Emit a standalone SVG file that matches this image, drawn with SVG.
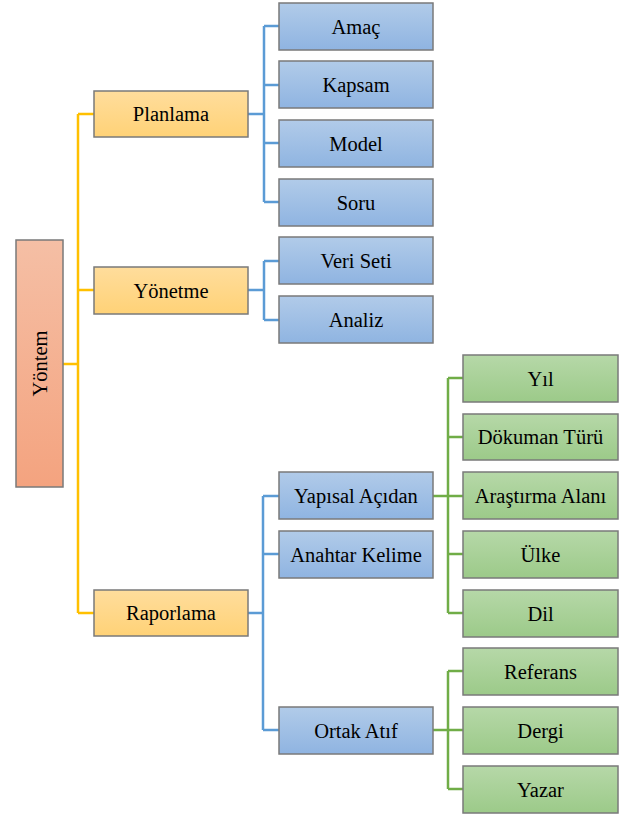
<svg xmlns="http://www.w3.org/2000/svg" width="624" height="816" viewBox="0 0 624 816">
<defs>
<linearGradient id="gRed" x1="0" y1="0" x2="0" y2="1"><stop offset="0" stop-color="#F5BFA5"/><stop offset="1" stop-color="#F4A37F"/></linearGradient>
<linearGradient id="gYel" x1="0" y1="0" x2="0" y2="1"><stop offset="0" stop-color="#FFDD9C"/><stop offset="1" stop-color="#FFD277"/></linearGradient>
<linearGradient id="gBlue" x1="0" y1="0" x2="0" y2="1"><stop offset="0" stop-color="#B1CBE9"/><stop offset="1" stop-color="#8FB4E1"/></linearGradient>
<linearGradient id="gGreen" x1="0" y1="0" x2="0" y2="1"><stop offset="0" stop-color="#B6D8A8"/><stop offset="1" stop-color="#9CCA89"/></linearGradient>
</defs>
<style>
rect{stroke:#7A7A7A;stroke-width:1.5}
.red{fill:url(#gRed)}
.yel{fill:url(#gYel)}
.blue{fill:url(#gBlue)}
.green{fill:url(#gGreen)}
text{font-family:"Liberation Serif","Times New Roman",serif;font-size:20.5px;fill:#000;text-anchor:middle;dominant-baseline:central}
.c{fill:none;stroke-width:2.5}
.cy{stroke:#FFC000}
.cb{stroke:#5B9BD5}
.cg{stroke:#70AD47}
</style>
<g id="connectors">
<path class="c cy" d="M63 364H78M78 114V613M78 114H94M78 290H94M78 613H94"/>
<path class="c cb" d="M248 114H264M264 26V202M264 26H279M264 85H279M264 143H279M264 202H279"/>
<path class="c cb" d="M248 290H264M264 261V320M264 261H279M264 320H279"/>
<path class="c cb" d="M248 613H263M263 496V730M263 496H279M263 554H279M263 730H279"/>
<path class="c cg" d="M433 496H463M448 378V613M448 378H463M448 437H463M448 554H463M448 613H463"/>
<path class="c cg" d="M433 730H463M448 671V789M448 671H463M448 789H463"/>
</g>
<g id="yontem"><rect class="red" x="16" y="240" width="47" height="247"/><text transform="translate(39.5,363.5) rotate(-90)">Yöntem</text></g>
<g id="planlama"><rect class="yel" x="94" y="91" width="154" height="46"/><text x="171" y="114">Planlama</text></g>
<g id="yonetme"><rect class="yel" x="94" y="267" width="154" height="47"/><text x="171" y="290.5">Yönetme</text></g>
<g id="raporlama"><rect class="yel" x="94" y="590" width="154" height="46"/><text x="171" y="613">Raporlama</text></g>
<g id="amac"><rect class="blue" x="279" y="3" width="154" height="47"/><text x="356" y="26.5">Amaç</text></g>
<g id="kapsam"><rect class="blue" x="279" y="61" width="154" height="47"/><text x="356" y="84.5">Kapsam</text></g>
<g id="model"><rect class="blue" x="279" y="120" width="154" height="47"/><text x="356" y="143.5">Model</text></g>
<g id="soru"><rect class="blue" x="279" y="179" width="154" height="47"/><text x="356" y="202.5">Soru</text></g>
<g id="veriseti"><rect class="blue" x="279" y="237" width="154" height="47"/><text x="356" y="260.5">Veri Seti</text></g>
<g id="analiz"><rect class="blue" x="279" y="296" width="154" height="47"/><text x="356" y="319.5">Analiz</text></g>
<g id="yapisal"><rect class="blue" x="279" y="472" width="154" height="47"/><text x="356" y="495.5">Yapısal Açıdan</text></g>
<g id="anahtar"><rect class="blue" x="279" y="531" width="154" height="47"/><text x="356" y="554.5">Anahtar Kelime</text></g>
<g id="ortak"><rect class="blue" x="279" y="707" width="154" height="47"/><text x="356" y="730.5">Ortak Atıf</text></g>
<g id="yil"><rect class="green" x="463" y="355" width="155" height="47"/><text x="540.5" y="378.5">Yıl</text></g>
<g id="dokuman"><rect class="green" x="463" y="414" width="155" height="46"/><text x="540.5" y="437">Dökuman Türü</text></g>
<g id="arastirma"><rect class="green" x="463" y="472" width="155" height="47"/><text x="540.5" y="495.5">Araştırma Alanı</text></g>
<g id="ulke"><rect class="green" x="463" y="531" width="155" height="47"/><text x="540.5" y="554.5">Ülke</text></g>
<g id="dil"><rect class="green" x="463" y="590" width="155" height="47"/><text x="540.5" y="613.5">Dil</text></g>
<g id="referans"><rect class="green" x="463" y="648" width="155" height="47"/><text x="540.5" y="671.5">Referans</text></g>
<g id="dergi"><rect class="green" x="463" y="707" width="155" height="47"/><text x="540.5" y="730.5">Dergi</text></g>
<g id="yazar"><rect class="green" x="463" y="766" width="155" height="47"/><text x="540.5" y="789.5">Yazar</text></g>
</svg>
